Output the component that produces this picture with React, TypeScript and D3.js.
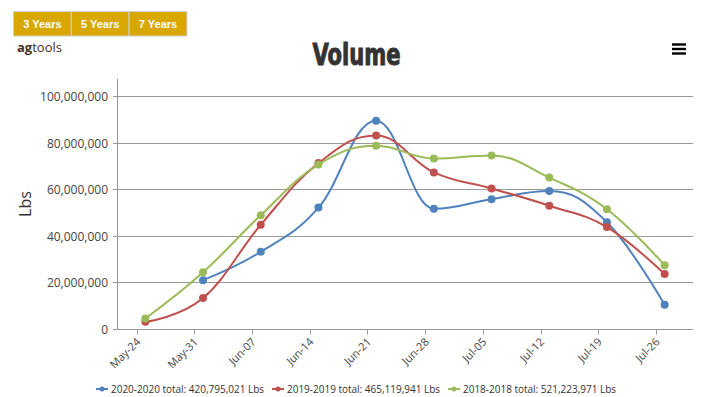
import React from "react";
import * as d3 from "d3";

const W = 714;
const H = 397;

// ---- data ----
const tickDates = [
  "2020-05-24", "2020-05-31", "2020-06-07", "2020-06-14", "2020-06-21",
  "2020-06-28", "2020-07-05", "2020-07-12", "2020-07-19", "2020-07-26",
];
const pointDates = [
  "2020-05-25", "2020-06-01", "2020-06-08", "2020-06-15", "2020-06-22",
  "2020-06-29", "2020-07-06", "2020-07-13", "2020-07-20", "2020-07-27",
];
const volume2020 = [null, 21.2, 33.4, 52.4, 89.7, 51.9, 56.0, 59.5, 46.1, 10.6];
const volume2019 = [3.3, 13.5, 45.0, 71.5, 83.4, 67.5, 60.6, 53.2, 44.0, 23.8];
const volume2018 = [4.7, 24.6, 49.1, 70.9, 79.0, 73.5, 74.8, 65.3, 51.7, 27.6];
const seriesLabels = [
  "2020-2020 total: 420,795,021 Lbs",
  "2019-2019 total: 465,119,941 Lbs",
  "2018-2018 total: 521,223,971 Lbs",
];
const seriesColors = ["#4F81BD", "#C0504D", "#9BBB59"];
const yTicks = [0, 20e6, 40e6, 60e6, 80e6, 100e6];
const buttonLabels = ["3 Years", "5 Years", "7 Years"];

const series = [volume2020, volume2019, volume2018];

// ---- layout ----
const plotLeft = 117;
const plotRight = 693;
const plotTop = 79;
const plotBottom = 329.5;

const parse = (s: string) => new Date(s + "T00:00:00Z");
const DAY = 86400000;
const firstPt = parse(pointDates[0]).getTime();
const lastPt = parse(pointDates[pointDates.length - 1]).getTime();
const pad = 3.44 * DAY;

const x = d3
  .scaleUtc()
  .domain([new Date(firstPt - pad), new Date(lastPt + pad)])
  .range([plotLeft, plotRight]);
const y = d3.scaleLinear().domain([0, 100e6]).range([plotBottom, 96.8]);

const fmt = d3.format(",");
const tickFmt = d3.utcFormat("%b-%d");

function highchartsSpline(pts: [number, number][]): string {
  const smoothing = 1.5;
  const denom = smoothing + 1;
  const ctrl = pts.map(() => ({ lx: NaN, ly: NaN, rx: NaN, ry: NaN }));
  for (let i = 1; i < pts.length - 1; i++) {
    const [lastX, lastY] = pts[i - 1];
    const [px, py] = pts[i];
    const [nextX, nextY] = pts[i + 1];
    const lcx = (smoothing * px + lastX) / denom;
    let lcy = (smoothing * py + lastY) / denom;
    const rcx = (smoothing * px + nextX) / denom;
    let rcy = (smoothing * py + nextY) / denom;
    if (rcx !== lcx) {
      const corr = ((rcy - lcy) * (rcx - px)) / (rcx - lcx) + py - rcy;
      lcy += corr;
      rcy += corr;
    }
    if (lcy > lastY && lcy > py) {
      lcy = Math.max(lastY, py);
      rcy = 2 * py - lcy;
    } else if (lcy < lastY && lcy < py) {
      lcy = Math.min(lastY, py);
      rcy = 2 * py - lcy;
    }
    if (rcy > nextY && rcy > py) {
      rcy = Math.max(nextY, py);
      lcy = 2 * py - rcy;
    } else if (rcy < nextY && rcy < py) {
      rcy = Math.min(nextY, py);
      lcy = 2 * py - rcy;
    }
    ctrl[i] = { lx: lcx, ly: lcy, rx: rcx, ry: rcy };
  }
  const p = d3.path();
  p.moveTo(pts[0][0], pts[0][1]);
  for (let i = 1; i < pts.length; i++) {
    const prev = pts[i - 1];
    const c0 = ctrl[i - 1];
    const c1 = ctrl[i];
    const r0x = isNaN(c0.rx) ? prev[0] : c0.rx;
    const r0y = isNaN(c0.ry) ? prev[1] : c0.ry;
    const l1x = isNaN(c1.lx) ? pts[i][0] : c1.lx;
    const l1y = isNaN(c1.ly) ? pts[i][1] : c1.ly;
    p.bezierCurveTo(r0x, r0y, l1x, l1y, pts[i][0], pts[i][1]);
  }
  return p.toString();
}

const crisp = (v: number) => Math.floor(v) + 0.5;
const FONT = "'Open Sans', 'DejaVu Sans', sans-serif";

export default function App() {
  const seriesPts = series.map((vals) =>
    vals
      .map((v, i) => (v == null ? null : ([x(parse(pointDates[i])), y(v * 1e6)] as [number, number])))
      .filter((d): d is [number, number] => d !== null)
  );

  const legendX = [96, 272, 448];

  return (
    <svg
      width={W}
      height={H}
      style={{ position: "fixed", left: 0, top: 0, background: "#fff" }}
      fontFamily={FONT}
    >
      <rect x={0} y={0} width={W} height={H} fill="#fff" />

      {/* range buttons */}
      {buttonLabels.map((b, i) => (
        <g key={b}>
          <rect x={13.5 + i * 57.8} y={11.5} width={57.8} height={24.5} fill="#D9A800" stroke="#cfcfcf" strokeWidth={1} />
          <text
            x={13.5 + i * 57.8 + 28.9}
            y={27.5}
            textAnchor="middle"
            fill="#fff"
            fontFamily="'Liberation Sans', Arial, sans-serif"
            fontWeight="bold"
            fontSize={11}
          >
            {b}
          </text>
        </g>
      ))}

      {/* logo */}
      <text x={17} y={51.5} fontSize={13} fill="#4a2e1f" fontFamily={FONT}>
        <tspan fontWeight="bold">ag</tspan>
        <tspan>tools</tspan>
      </text>

      {/* title */}
      <text
        x={356.5}
        y={65}
        textAnchor="middle"
        fontFamily="Impact, 'DejaVu Sans Condensed', 'Liberation Sans Narrow', sans-serif"
        fontWeight="bold"
        fontSize={31}
        fill="#333"
        stroke="#333"
        strokeWidth={1}
        textLength={88}
        lengthAdjust="spacingAndGlyphs"
      >
        Volume
      </text>

      {/* hamburger */}
      {[44.5, 49, 53.5].map((yy) => (
        <rect key={yy} x={672} y={yy - 1.2} width={14} height={2.4} fill="#000" />
      ))}

      {/* grid lines */}
      {yTicks.map((t) => (
        <g key={t}>
          <line x1={plotLeft - 4} x2={plotRight} y1={crisp(y(t))} y2={crisp(y(t))} stroke="#999" strokeWidth={1} />
          <text
            x={108}
            y={y(t)}
            dy="0.35em"
            textAnchor="end"
            fontSize={12}
            fill="#444"
          >
            {fmt(t)}
          </text>
        </g>
      ))}

      {/* y axis line */}
      <line x1={crisp(plotLeft)} x2={crisp(plotLeft)} y1={plotTop} y2={plotBottom} stroke="#999" />
      {/* x axis line */}
      <line x1={plotLeft} x2={plotRight} y1={crisp(plotBottom)} y2={crisp(plotBottom)} stroke="#999" />

      {/* y axis title */}
      <text
        transform={`translate(31,204) rotate(-90)`}
        textAnchor="middle"
        fontSize={16}
        fill="#333"
      >
        Lbs
      </text>

      {/* x ticks */}
      {tickDates.map((d) => {
        const tx = x(parse(d));
        return (
          <g key={d}>
            <line x1={crisp(tx)} x2={crisp(tx)} y1={plotBottom} y2={plotBottom + 5} stroke="#999" />
            <text
              transform={`translate(${tx + 4},${plotBottom + 13}) rotate(-45)`}
              textAnchor="end"
              fontSize={11}
              fill="#444"
            >
              {tickFmt(parse(d))}
            </text>
          </g>
        );
      })}

      {/* series */}
      {seriesPts.map((pts, si) => (
        <g key={si}>
          <path d={highchartsSpline(pts)} fill="none" stroke={seriesColors[si]} strokeWidth={2} />
          {pts.map((p, i) => (
            <circle key={i} cx={p[0]} cy={p[1]} r={4} fill={seriesColors[si]} />
          ))}
        </g>
      ))}

      {/* legend */}
      {seriesLabels.map((lab, i) => (
        <g key={lab}>
          <line x1={legendX[i]} x2={legendX[i] + 12} y1={389} y2={389} stroke={seriesColors[i]} strokeWidth={2} />
          <circle cx={legendX[i] + 6} cy={389} r={2.5} fill={seriesColors[i]} />
          <text
            x={legendX[i] + 15}
            y={392.5}
            fontSize={10.3}
            fill="#333"
            textLength={153}
            lengthAdjust="spacingAndGlyphs"
          >
            {lab}
          </text>
        </g>
      ))}
    </svg>
  );
}
